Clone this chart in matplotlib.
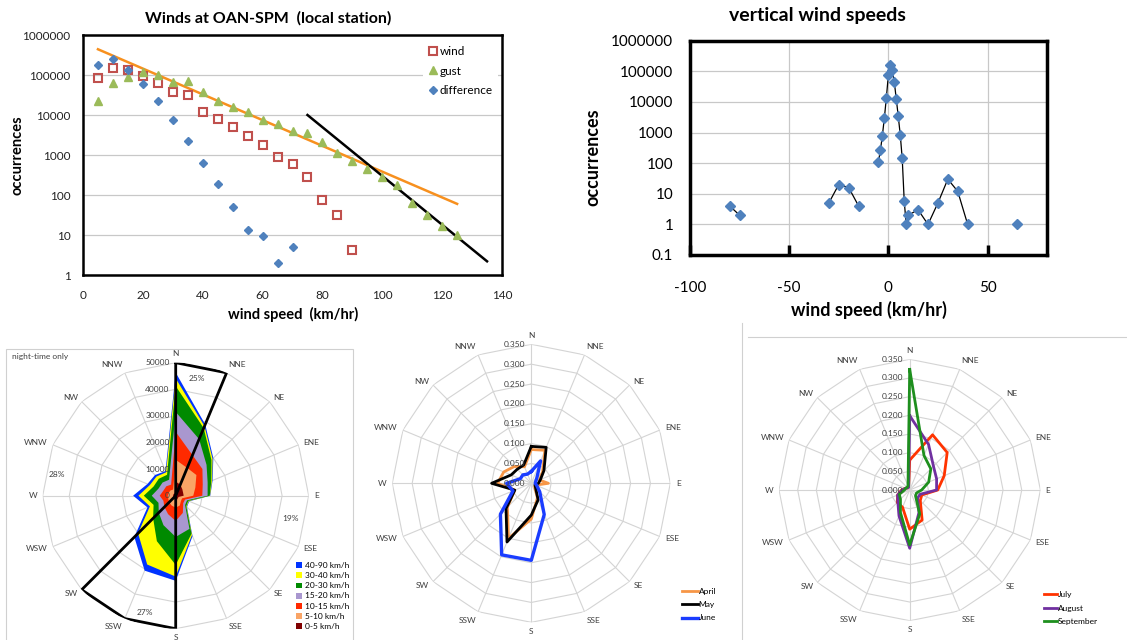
import numpy as np
import matplotlib
matplotlib.use("Agg")
import matplotlib.pyplot as plt
from matplotlib.patches import Patch, Rectangle
from matplotlib.lines import Line2D
from matplotlib.ticker import NullLocator
from matplotlib.transforms import offset_copy

plt.rcParams['font.family'] = ['Lato', 'DejaVu Sans']

# ---- top left: horizontal winds (log counts)
speed = [5, 10, 15, 20, 25, 30, 35, 40, 45, 50, 55, 60, 65, 70, 75, 80, 85, 90,
         95, 100, 105, 110, 115, 120, 125]
wind = [82000, 147000, 135000, 94000, 62000, 38000, 31000, 12100, 7800, 5100, 3000,
        1800, 890, 600, 275, 74, 32, 4.1]
gust = [22000, 62000, 89000, 117000, 99000, 67000, 72000, 38000, 23000, 15400, 12000,
        7500, 6000, 3900, 3500, 2100, 1100, 710, 440, 275, 175, 62, 31, 17, 9.8]
difference = [174000, 245000, 135000, 60000, 22000, 7300, 2200, 620, 192, 50, 13,
              9.3, 2, 5]
fit_orange_x = [5, 125]
fit_orange_y = [440000, 60]
fit_black_x = [75, 135]
fit_black_y = [10000, 2.2]

# ---- top right: vertical winds
vert_speed = [-80, -75, -70, -30, -25, -20, -15, -10, -5, -4, -3, -2, -1, 0, 1, 2, 3,
              4, 5, 6, 7, 8, 9, 10, 15, 20, 25, 30, 35, 40, 45, 65]
vert_count = [4, 2, np.nan, 5, 20, 16, 4, np.nan, 113, 260, 800, 3000, 13500, 74000,
              165000, 110000, 45000, 12600, 3400, 860, 142, 6, 1, 2, 3, 1, 5, 30, 12,
              1, np.nan, 1]

# ---- wind roses
directions = ['N', 'NNE', 'NE', 'ENE', 'E', 'ESE', 'SE', 'SSE',
              'S', 'SSW', 'SW', 'WSW', 'W', 'WNW', 'NW', 'NNW']
bins = ['0-5 km/h', '5-10 km/h', '10-15 km/h', '15-20 km/h',
        '20-30 km/h', '30-40 km/h', '40-90 km/h']
night_counts = [
    [5300, 4500, 3500, 3000, 3000, 1200, 1200, 1500, 1500, 1200, 1200, 1000, 1000, 1000, 1000, 1000],
    [8200, 6800, 7500, 5000, 3600, 1400, 1600, 2500, 3000, 2800, 2300, 2000, 2000, 1800, 1800, 1500],
    [10500, 5200, 3200, 3000, 3400, 1200, 1200, 3000, 5000, 3500, 2500, 2000, 3000, 2200, 2200, 2000],
    [7500, 6500, 2200, 2000, 2000, 800, 1000, 6500, 6000, 4500, 3000, 2000, 3000, 2000, 2000, 2000],
    [9700, 4500, 2600, 1500, 800, 500, 600, 2000, 10500, 6500, 3000, 2000, 3000, 2000, 2000, 2000],
    [2900, 800, 600, 300, 100, 200, 200, 500, 4400, 9500, 8000, 1500, 2000, 1500, 1200, 1000],
    [2200, 700, 400, 200, 100, 200, 200, 500, 1600, 2500, 2000, 1000, 2000, 1000, 800, 500],
]
bin_colors = ['#800000', '#F9A466', '#FF2A00', '#A997CF', '#008A00', '#FFFF00', '#0033FF']
sector_outline = [50000, 50000, 0, 0, 0, 0, 0, 0, 50000, 50000, 50000, 0, 0, 0, 0, 0]
sector_pct = ['25%', '19%', '27%', '28%']
sector_pct_angle = [10, 101, 195, 280]
sector_pct_r = [44800, 44000, 45300, 45500]

april = [0.085, 0.090, 0.040, 0.022, 0.043, 0.012, 0.012, 0.040, 0.090, 0.150, 0.085, 0.045, 0.085, 0.075, 0.060, 0.045]
may = [0.093, 0.098, 0.045, 0.025, 0.018, 0.010, 0.015, 0.045, 0.080, 0.160, 0.090, 0.045, 0.100, 0.055, 0.050, 0.050]
june = [0.030, 0.061, 0.020, 0.012, 0.010, 0.015, 0.030, 0.085, 0.194, 0.195, 0.110, 0.050, 0.062, 0.030, 0.030, 0.025]
july = [0.080, 0.160, 0.142, 0.100, 0.075, 0.035, 0.040, 0.087, 0.105, 0.050, 0.047, 0.035, 0.022, 0.012, 0.008, 0.008]
august = [0.199, 0.132, 0.090, 0.078, 0.072, 0.030, 0.030, 0.065, 0.156, 0.075, 0.045, 0.035, 0.020, 0.012, 0.008, 0.008]
september = [0.323, 0.100, 0.080, 0.055, 0.032, 0.020, 0.022, 0.070, 0.147, 0.065, 0.035, 0.030, 0.014, 0.012, 0.010, 0.012]

W, H = 1127, 640
fig = plt.figure(figsize=(W / 100, H / 100), dpi=100)

# top left chart
axA = fig.add_axes([83 / W, 1 - 275 / H, 419 / W, 240 / H])
axA.set_yscale('log')
axA.plot(speed[:len(wind)], wind, 's', mfc='none', mec='#C0504D', ms=6, mew=1.5, label='wind', zorder=3)
axA.plot(speed, gust, '^', color='#9BBB59', ms=5.5, label='gust', zorder=3)
axA.plot(speed[:len(difference)], difference, 'D', color='#4F81BD', ms=4.5, label='difference', zorder=3)
axA.plot(fit_orange_x, fit_orange_y, color='#F7901E', lw=1.8, zorder=2)
axA.plot(fit_black_x, fit_black_y, color='black', lw=1.8, zorder=2)
axA.set_xlim(0, 140)
axA.set_ylim(1, 1e6)
axA.set_xticks(range(0, 141, 20))
axA.set_yticks([10 ** k for k in range(7)])
axA.set_yticklabels([str(10 ** k) for k in range(7)])
axA.yaxis.set_minor_locator(NullLocator())
axA.yaxis.grid(True, color='#C8C8C8', lw=0.9)
axA.set_axisbelow(True)
axA.tick_params(length=0, labelsize=8.5, colors='#222222')
axA.tick_params(axis='x', pad=11)
axA.tick_params(axis='y', pad=9)
for s in axA.spines.values():
    s.set_linewidth(1.8)
axA.legend(loc='upper right', bbox_to_anchor=(0.99, 0.975), fontsize=8.5, frameon=True,
           edgecolor='none', fancybox=False, framealpha=1, handlelength=0.8,
           handletextpad=0.2, labelspacing=0.75, borderaxespad=0)
fig.text(268 / W, 1 - 18 / H, 'Winds at OAN-SPM  (local station)', ha='center', va='center',
         fontsize=11.5, fontweight='bold')
fig.text(18 / W, 1 - 155 / H, 'occurrences', rotation=90, ha='center', va='center',
         fontsize=10.5, fontweight='bold')
fig.text(293 / W, 1 - 314 / H, 'wind speed  (km/hr)', ha='center', va='center',
         fontsize=10.5, fontweight='bold')

# top right chart
axB = fig.add_axes([690 / W, 1 - 255 / H, 357 / W, 214.3 / H])
axB.set_yscale('log')
axB.plot(vert_speed, vert_count, color='black', lw=0.9, marker='D', ms=5,
         mfc='#4F81BD', mec='#4F81BD')
axB.set_xlim(-100, 80)
axB.set_ylim(0.1, 1e6)
axB.set_xticks([-100, -50, 0, 50])
axB.set_xticklabels(['-100', '-50', '0', '50'])
axB.set_yticks([10.0 ** k for k in range(-1, 7)])
axB.set_yticklabels(['0.1'] + [str(10 ** k) for k in range(7)])
axB.yaxis.set_minor_locator(NullLocator())
axB.grid(True, color='#C8C8C8', lw=0.9)
axB.set_axisbelow(True)
axB.tick_params(axis='x', direction='in', length=7, width=2.5, pad=19, labelsize=11)
axB.tick_params(axis='y', length=0, pad=12, labelsize=11)
for s in axB.spines.values():
    s.set_linewidth(2.5)
fig.text(817 / W, 1 - 15 / H, 'vertical wind speeds', ha='center', va='center',
         fontsize=14, fontweight='bold')
fig.text(593 / W, 1 - 157 / H, 'occurrences', rotation=90, ha='center', va='center',
         fontsize=13, fontweight='bold')
fig.text(869 / W, 1 - 310 / H, 'wind speed (km/hr)', ha='center', va='center',
         fontsize=13, fontweight='bold')

# wind roses
theta = np.deg2rad(np.arange(16) * 22.5)
closed = np.append(theta, theta[0])
grid_c = '#D4D4D4'
txt_c = '#404040'


def radar(cx, cy, rad, rmax, rings, ring_labels):
    ax = fig.add_axes([(cx - rad) / W, 1 - (cy + rad) / H, 2 * rad / W, 2 * rad / H],
                      projection='polar')
    ax.set_theta_zero_location('N')
    ax.set_theta_direction(-1)
    ax.set_ylim(0, rmax)
    ax.set_xticks([])
    ax.set_yticks([])
    ax.grid(False)
    ax.spines['polar'].set_visible(False)
    ax.patch.set_visible(False)
    for r in rings:
        ax.plot(closed, np.full(17, r), color=grid_c, lw=0.8, zorder=0)
    for t in theta:
        ax.plot([t, t], [0, rmax], color=grid_c, lw=0.8, zorder=0)
    shift = offset_copy(ax.transData, fig=fig, x=-6, y=0, units='dots')
    for r, s in zip([0] + rings, ring_labels):
        ax.text(0, r, s, transform=shift, ha='right', va='center', fontsize=6,
                color=txt_c, zorder=6)
    for t, name in zip(theta, directions):
        sx, cyy = np.sin(t), np.cos(t)
        ha = 'left' if sx > 0.1 else ('right' if sx < -0.1 else 'center')
        va = 'bottom' if cyy > 0.9 else ('top' if cyy < -0.9 else 'center')
        ax.text(t, rmax * 1.04, name, ha=ha, va=va, fontsize=6, color=txt_c)
    return ax


# night-time stacked rose
ax1 = radar(175.7, 495.7, 133, 50000, [10000, 20000, 30000, 40000, 50000],
            ['0', '10000', '20000', '30000', '40000', '50000'])
cum = np.cumsum(np.array(night_counts), axis=0)
for k in range(len(bins) - 1, -1, -1):
    ax1.fill(closed, np.append(cum[k], cum[k][0]), color=bin_colors[k], lw=0,
             zorder=2 + (6 - k) * 0.01)
ax1.plot(closed, np.append(sector_outline, sector_outline[0]), color='black', lw=2, zorder=4)
for s, a, r in zip(sector_pct, sector_pct_angle, sector_pct_r):
    ax1.text(np.deg2rad(a), r, s, ha='center', va='center', fontsize=6, color=txt_c)
fig.text(12 / W, 1 - 357 / H, 'night-time only', ha='left', va='center', fontsize=6, color=txt_c)
handles = [Patch(facecolor=bin_colors[k], label=bins[k]) for k in range(len(bins) - 1, -1, -1)]
fig.legend(handles=handles, loc='upper left', bbox_to_anchor=(296 / W, 1 - 562 / H),
           fontsize=6, frameon=False, handlelength=0.7, handleheight=0.7,
           handletextpad=0.4, labelspacing=0.38, borderpad=0, borderaxespad=0)

# April - June
ax2 = radar(531.3, 483.3, 139, 0.35, [0.05, 0.10, 0.15, 0.20, 0.25, 0.30, 0.35],
            ['0.000', '0.050', '0.100', '0.150', '0.200', '0.250', '0.300', '0.350'])
for vals, c, name, lw in [(april, '#F79646', 'April', 2.0), (may, 'black', 'May', 2.0),
                          (june, '#1A3CFF', 'June', 2.4)]:
    ax2.plot(closed, np.append(vals, vals[0]), color=c, lw=lw, label=name, zorder=3)
ax2.legend(loc='upper left', bbox_to_anchor=(682 / W, 1 - 588 / H),
           bbox_transform=fig.transFigure, fontsize=6, frameon=False, handlelength=1.9,
           handletextpad=0.1, labelspacing=0.75, borderpad=0, borderaxespad=0)

# July - September
ax3 = radar(909.7, 490, 130.7, 0.35, [0.05, 0.10, 0.15, 0.20, 0.25, 0.30, 0.35],
            ['0.000', '0.050', '0.100', '0.150', '0.200', '0.250', '0.300', '0.350'])
for vals, c, name in [(july, '#FF3300', 'July'), (august, '#7030A0', 'August'),
                      (september, '#1E8F1E', 'September')]:
    ax3.plot(closed, np.append(vals, vals[0]), color=c, lw=2.0, label=name, zorder=3)
ax3.legend(loc='upper left', bbox_to_anchor=(1044 / W, 1 - 591 / H),
           bbox_transform=fig.transFigure, fontsize=6, frameon=False, handlelength=1.6,
           handletextpad=0.1, labelspacing=0.8, borderpad=0, borderaxespad=0)

# panel frames
fig.add_artist(Rectangle((6 / W, -0.01), 347 / W, (640 - 349) / H + 0.01,
                         transform=fig.transFigure, fill=False, ec='#D0D0D0', lw=0.8))
fig.add_artist(Line2D([742 / W, 742 / W], [0, 1 - 323 / H], transform=fig.transFigure,
                      color='#D0D0D0', lw=0.8))
fig.add_artist(Line2D([748 / W, 1], [1 - 337 / H, 1 - 337 / H], transform=fig.transFigure,
                      color='#D0D0D0', lw=0.8))

fig.savefig('out.png', dpi=100)
